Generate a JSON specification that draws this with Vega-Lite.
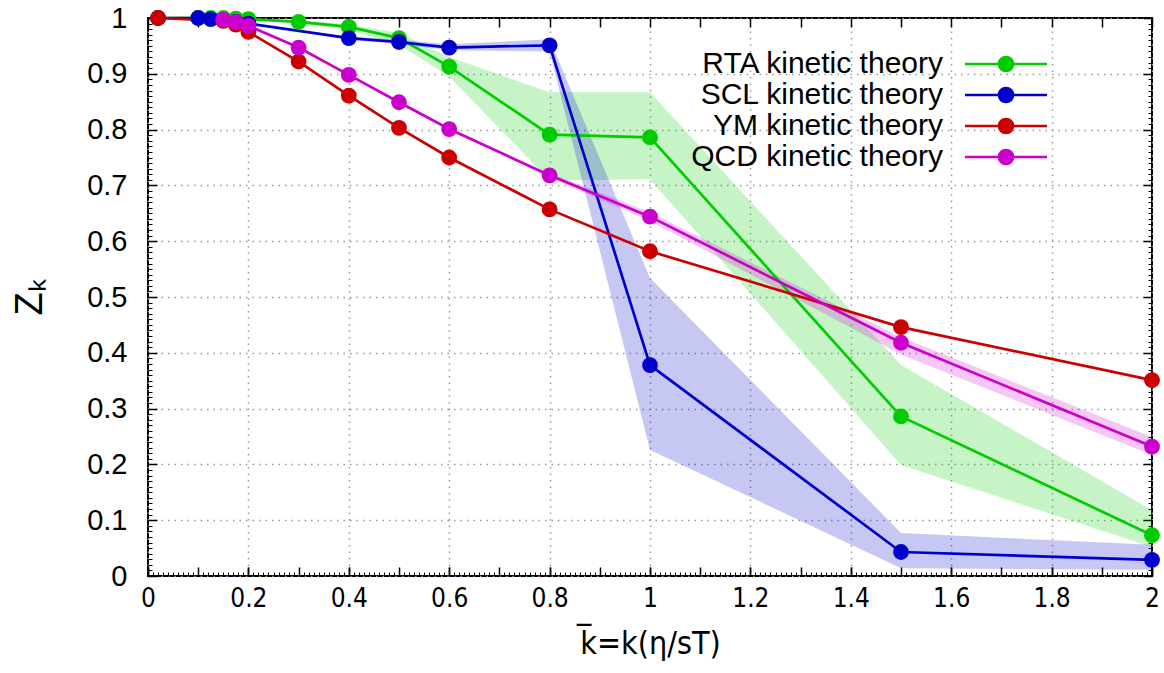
{
  "$schema": "https://vega.github.io/schema/vega-lite/v6.json",
  "width": 1004,
  "height": 558,
  "autosize": "none",
  "padding": {"left": 148, "top": 18, "right": 12, "bottom": 97},
  "background": "white",
  "config": {
    "view": {"stroke": "black", "strokeWidth": 2},
    "font": "Liberation Sans",
    "axis": {"labelColor": "black", "tickColor": "black", "titleColor": "black", "domain": false, "grid": false, "labelFlush": false}
  },
  "data": {
    "values": [
      {"s": "RTA kinetic theory", "x": 0.02, "y": 1.0, "lo": null, "hi": null},
      {"s": "RTA kinetic theory", "x": 0.1, "y": 1.0, "lo": null, "hi": null},
      {"s": "RTA kinetic theory", "x": 0.125, "y": 1.0, "lo": null, "hi": null},
      {"s": "RTA kinetic theory", "x": 0.15, "y": 1.0, "lo": null, "hi": null},
      {"s": "RTA kinetic theory", "x": 0.175, "y": 0.999, "lo": null, "hi": null},
      {"s": "RTA kinetic theory", "x": 0.2, "y": 0.998, "lo": 0.998, "hi": 0.998},
      {"s": "RTA kinetic theory", "x": 0.3, "y": 0.993, "lo": 0.99, "hi": 0.996},
      {"s": "RTA kinetic theory", "x": 0.4, "y": 0.984, "lo": 0.978, "hi": 0.989},
      {"s": "RTA kinetic theory", "x": 0.5, "y": 0.964, "lo": 0.952, "hi": 0.973},
      {"s": "RTA kinetic theory", "x": 0.6, "y": 0.913, "lo": 0.895, "hi": 0.93},
      {"s": "RTA kinetic theory", "x": 0.8, "y": 0.791, "lo": 0.709, "hi": 0.867},
      {"s": "RTA kinetic theory", "x": 1.0, "y": 0.786, "lo": 0.711, "hi": 0.867},
      {"s": "RTA kinetic theory", "x": 1.5, "y": 0.286, "lo": 0.199, "hi": 0.378},
      {"s": "RTA kinetic theory", "x": 2.0, "y": 0.073, "lo": 0.052, "hi": 0.118},
      {"s": "SCL kinetic theory", "x": 0.02, "y": 1.0, "lo": null, "hi": null},
      {"s": "SCL kinetic theory", "x": 0.1, "y": 1.0, "lo": null, "hi": null},
      {"s": "SCL kinetic theory", "x": 0.125, "y": 0.998, "lo": null, "hi": null},
      {"s": "SCL kinetic theory", "x": 0.15, "y": 0.996, "lo": null, "hi": null},
      {"s": "SCL kinetic theory", "x": 0.175, "y": 0.993, "lo": null, "hi": null},
      {"s": "SCL kinetic theory", "x": 0.2, "y": 0.99, "lo": 0.99, "hi": 0.99},
      {"s": "SCL kinetic theory", "x": 0.4, "y": 0.964, "lo": 0.961, "hi": 0.967},
      {"s": "SCL kinetic theory", "x": 0.5, "y": 0.957, "lo": 0.953, "hi": 0.961},
      {"s": "SCL kinetic theory", "x": 0.6, "y": 0.947, "lo": 0.942, "hi": 0.953},
      {"s": "SCL kinetic theory", "x": 0.8, "y": 0.951, "lo": 0.94, "hi": 0.962},
      {"s": "SCL kinetic theory", "x": 1.0, "y": 0.378, "lo": 0.226, "hi": 0.534},
      {"s": "SCL kinetic theory", "x": 1.5, "y": 0.043, "lo": 0.014, "hi": 0.077},
      {"s": "SCL kinetic theory", "x": 2.0, "y": 0.029, "lo": 0.011, "hi": 0.056},
      {"s": "YM kinetic theory", "x": 0.02, "y": 1.0, "lo": null, "hi": null},
      {"s": "YM kinetic theory", "x": 0.15, "y": 0.995, "lo": null, "hi": null},
      {"s": "YM kinetic theory", "x": 0.175, "y": 0.988, "lo": null, "hi": null},
      {"s": "YM kinetic theory", "x": 0.2, "y": 0.975, "lo": null, "hi": null},
      {"s": "YM kinetic theory", "x": 0.3, "y": 0.922, "lo": null, "hi": null},
      {"s": "YM kinetic theory", "x": 0.4, "y": 0.861, "lo": null, "hi": null},
      {"s": "YM kinetic theory", "x": 0.5, "y": 0.803, "lo": null, "hi": null},
      {"s": "YM kinetic theory", "x": 0.6, "y": 0.75, "lo": null, "hi": null},
      {"s": "YM kinetic theory", "x": 0.8, "y": 0.657, "lo": null, "hi": null},
      {"s": "YM kinetic theory", "x": 1.0, "y": 0.582, "lo": null, "hi": null},
      {"s": "YM kinetic theory", "x": 1.5, "y": 0.446, "lo": null, "hi": null},
      {"s": "YM kinetic theory", "x": 2.0, "y": 0.351, "lo": null, "hi": null},
      {"s": "QCD kinetic theory", "x": 0.15, "y": 0.997, "lo": null, "hi": null},
      {"s": "QCD kinetic theory", "x": 0.175, "y": 0.993, "lo": null, "hi": null},
      {"s": "QCD kinetic theory", "x": 0.2, "y": 0.986, "lo": null, "hi": null},
      {"s": "QCD kinetic theory", "x": 0.3, "y": 0.947, "lo": null, "hi": null},
      {"s": "QCD kinetic theory", "x": 0.4, "y": 0.898, "lo": null, "hi": null},
      {"s": "QCD kinetic theory", "x": 0.5, "y": 0.849, "lo": null, "hi": null},
      {"s": "QCD kinetic theory", "x": 0.6, "y": 0.801, "lo": 0.801, "hi": 0.801},
      {"s": "QCD kinetic theory", "x": 0.8, "y": 0.718, "lo": 0.714, "hi": 0.722},
      {"s": "QCD kinetic theory", "x": 1.0, "y": 0.644, "lo": 0.636, "hi": 0.652},
      {"s": "QCD kinetic theory", "x": 1.5, "y": 0.418, "lo": 0.397, "hi": 0.428},
      {"s": "QCD kinetic theory", "x": 2.0, "y": 0.232, "lo": 0.217, "hi": 0.249}
    ]
  },
  "resolve": {"scale": {"x": "shared", "y": "shared"}, "axis": {"x": "independent", "y": "independent"}},
  "layer": [
    {
      "transform": [{"filter": "datum.lo != null"}],
      "mark": {"type": "area", "opacity": 0.22},
      "encoding": {
        "x": {
          "field": "x", "type": "quantitative",
          "scale": {"domain": [0, 2], "nice": false, "zero": false},
          "axis": {
            "orient": "bottom", "tickCount": 10, "format": "~g",
            "labelFont": "'Liberation Sans Narrow', 'DejaVu Sans Condensed', 'Liberation Sans', sans-serif",
            "labelFontSize": 26, "labelPadding": 18, "tickSize": -9, "tickWidth": 1.5,
            "grid": true, "gridDash": [1.5, 5], "gridColor": "#9a9a9a", "gridWidth": 1.5,
            "title": "k̅=k(η/sT)",
            "titleFont": "'Liberation Sans Narrow', 'DejaVu Sans Condensed', 'Liberation Sans', sans-serif",
            "titleFontSize": 32, "titleFontWeight": "normal", "titleY": 67, "titleBaseline": "middle"
          }
        },
        "y": {
          "field": "lo", "type": "quantitative",
          "scale": {"domain": [0, 1], "nice": false, "zero": false},
          "axis": {
            "orient": "left", "tickCount": 10, "format": "~g",
            "labelFontSize": 29, "labelPadding": 30, "tickSize": -9, "tickWidth": 1.5,
            "grid": true, "gridDash": [1.5, 5], "gridColor": "#9a9a9a", "gridWidth": 1.5,
            "title": "Zₖ", "titleFontSize": 38, "titleFontWeight": "normal",
            "titleX": -118, "titleY": 279, "titleAngle": -90, "titleAlign": "center", "titleBaseline": "middle"
          }
        },
        "y2": {"field": "hi"},
        "fill": {
          "field": "s", "type": "nominal",
          "scale": {"domain": ["QCD kinetic theory", "YM kinetic theory", "SCL kinetic theory", "RTA kinetic theory"], "range": ["#cc00cc", "#cc0000", "#0000cc", "#00cc00"]},
          "legend": null
        }
      }
    },
    {
      "mark": {"type": "line", "strokeWidth": 2.7},
      "encoding": {
        "x": {"field": "x", "type": "quantitative", "axis": {"orient": "top", "tickCount": 20, "labels": false, "tickSize": -9, "tickWidth": 1.5, "title": null}},
        "y": {"field": "y", "type": "quantitative", "axis": {"orient": "right", "tickCount": 10, "labels": false, "tickSize": -9, "tickWidth": 1.5, "title": null}},
        "color": {
          "field": "s", "type": "nominal",
          "scale": {"domain": ["RTA kinetic theory", "SCL kinetic theory", "YM kinetic theory", "QCD kinetic theory"], "range": ["#00cc00", "#0000cc", "#cc0000", "#cc00cc"]},
          "legend": {
            "title": null, "orient": "none", "legendX": 513, "legendY": 31, "padding": 0,
            "labelFont": "Liberation Sans", "labelFontSize": 30, "labelColor": "black", "labelLimit": 0,
            "labelAlign": "right", "labelOffset": -78, "symbolOffset": 330,
            "symbolType": "M-3.154,0L3.154,0M0.54,0A0.54,0.54,0,1,1,-0.54,0A0.54,0.54,0,1,1,0.54,0Z",
            "symbolSize": 676, "symbolStrokeWidth": 2.7, "rowPadding": 1
          }
        }
      }
    },
    {
      "mark": {"type": "point", "filled": true, "size": 250, "opacity": 1},
      "encoding": {
        "x": {"field": "x", "type": "quantitative", "axis": {"orient": "bottom", "tickCount": 20, "labels": false, "tickSize": -9, "tickWidth": 1.5, "title": null}},
        "y": {"field": "y", "type": "quantitative", "axis": {"orient": "left", "tickCount": 100, "labels": false, "tickSize": -4, "tickWidth": 1, "title": null}},
        "color": {"field": "s", "type": "nominal"}
      }
    },
    {
      "mark": {"type": "point", "opacity": 0},
      "encoding": {
        "x": {"field": "x", "type": "quantitative", "axis": {"orient": "bottom", "tickCount": 200, "labels": false, "tickSize": -4, "tickWidth": 1, "title": null}},
        "y": {"field": "y", "type": "quantitative", "axis": {"orient": "right", "tickCount": 100, "labels": false, "tickSize": -4, "tickWidth": 1, "title": null}}
      }
    }
  ]
}
